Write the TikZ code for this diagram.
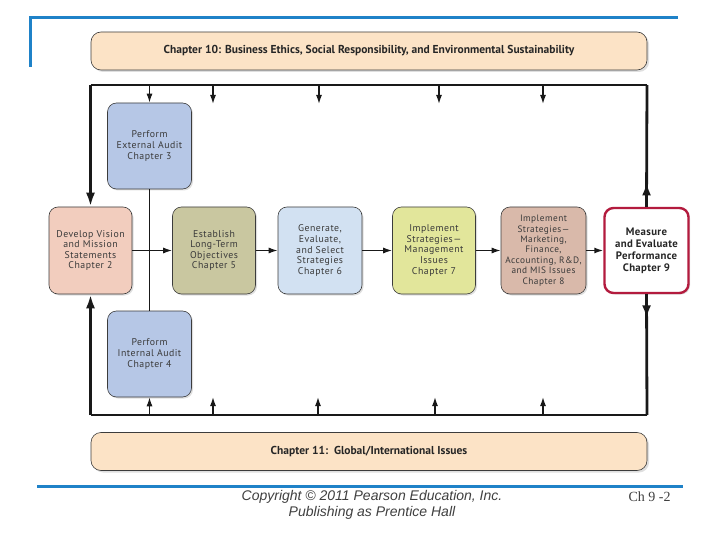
\documentclass[tikz,border=0pt]{standalone}
\usepackage{fontspec}
\setmainfont{PT Sans}
\newfontfamily\boxfont[LetterSpace=5]{PT Sans}
\newfontfamily\boldboxfont[LetterSpace=3]{PT Sans}
\newfontfamily\footfont{Liberation Sans}
\newfontfamily\chfont{Liberation Serif}
\usetikzlibrary{arrows.meta,shadows,decorations.markings}
\definecolor{slideblue}{HTML}{1F82C8}
\definecolor{peach}{HTML}{FCE3C6}
\definecolor{visionc}{HTML}{F2CDBE}
\definecolor{auditc}{HTML}{B6C7E6}
\definecolor{estabc}{HTML}{C9C7A0}
\definecolor{genc}{HTML}{D2E1F2}
\definecolor{mgmtc}{HTML}{E2E69B}
\definecolor{mktc}{HTML}{D9B9AA}
\definecolor{measurec}{HTML}{B31B3E}
\definecolor{txt}{HTML}{3A3A3A}
\definecolor{edge}{HTML}{3C3C3C}
\begin{document}
\begin{tikzpicture}[x=1pt,y=-1pt,
  box/.style={draw=edge, line width=0.6pt, rounded corners=9pt, align=center,
    text=txt, font=\boxfont\fontsize{9.8}{10.6}\selectfont, inner sep=1pt,
    drop shadow={shadow xshift=1.5pt, shadow yshift=-1.5pt, opacity=0.25}},
  banner/.style={draw=edge, line width=0.6pt, rounded corners=10pt, fill=peach,
    minimum width=556pt, minimum height=38pt, text=black!85,
    font=\fontsize{11.5}{13}\selectfont\bfseries,
    drop shadow={shadow xshift=2pt, shadow yshift=-2pt, opacity=0.25}},
  frame/.style={line width=2.8pt, draw=black!90},
  thin/.style={line width=1.4pt, draw=black!90},
  thinarrow/.style={thin, -{Latex[length=9pt,width=6pt]}},
  bigarrow/.style={frame, -{Latex[length=14pt,width=9pt]}},
  midarrow/.style={postaction={decorate}, decoration={markings,
    mark=at position #1 with {\arrow{Latex[length=13pt,width=9pt]}}}},
  blueline/.style={line width=3pt, draw=slideblue}
]
\useasboundingbox (0,0) rectangle (720,540);
\fill[white] (0,0) rectangle (720,540);

% slide decoration lines
\draw[blueline] (30,18) -- (678,18);
\draw[blueline] (30,16.5) -- (30,67);
\draw[blueline] (37,486) -- (683,486);

% banners
\node[banner] (ethics) at (369,51) {Chapter 10: Business Ethics, Social Responsibility, and Environmental Sustainability};
\node[banner] (global) at (369,451.5) {Chapter 11:\ \ Global/International Issues};

% frame corners
\coordinate (TL) at (90.5,85);
\coordinate (TR) at (647,85);
\coordinate (BL) at (90.5,415);
\coordinate (BR) at (647,415);

% boxes
\node[box, fill=auditc, minimum width=84pt, minimum height=86pt] (ext) at (149.5,146) {Perform\\External Audit\\Chapter 3};
\node[box, fill=auditc, minimum width=84pt, minimum height=86pt] (int) at (149.5,354) {Perform\\Internal Audit\\Chapter 4};
\node[box, fill=visionc, minimum width=83pt, minimum height=87pt] (vision) at (90.5,250.5) {Develop Vision\\and Mission\\Statements\\Chapter 2};
\node[box, fill=estabc, minimum width=83pt, minimum height=87pt] (estab) at (214,250.5) {Establish\\Long-Term\\Objectives\\Chapter 5};
\node[box, fill=genc, minimum width=84pt, minimum height=87pt] (gen) at (320,250.5) {Generate,\\Evaluate,\\and Select\\Strategies\\Chapter 6};
\node[box, fill=mgmtc, minimum width=83pt, minimum height=87pt] (mgmt) at (434,250.5) {Implement\\Strategies—\\Management\\Issues\\Chapter 7};
\node[box, fill=mktc, minimum width=85pt, minimum height=87pt, font=\boxfont\fontsize{9.3}{10.4}\selectfont] (mkt) at (543.5,250.5) {Implement\\Strategies—\\Marketing,\\Finance,\\Accounting, R\&D,\\and MIS Issues\\Chapter 8};
\node[box, fill=white, draw=measurec, line width=2.4pt, minimum width=84pt, minimum height=85pt,
  text=black!85, font=\boldboxfont\fontsize{10.8}{12}\selectfont\bfseries] (measure) at (646.5,250.5) {Measure\\and Evaluate\\Performance\\Chapter 9};

% frame
\draw[frame] (TL) -- (TR);
\draw[frame] (BL) -- (BR);
\draw[bigarrow] (TL) -- (vision.north);
\draw[bigarrow] (BL) -- (vision.south);
\draw[frame, midarrow=0.2] (measure.north) -- (TR);
\draw[frame, midarrow=0.2] (measure.south) -- (BR);

% top arrows from frame
\draw[thinarrow] (ext.north |- TL) -- (ext.north);
\foreach \x [count=\i] in {213,319,439,543} {
  \coordinate (ts\i) at (\x,85);
  \coordinate (te\i) at (\x,104);
  \draw[thinarrow] (ts\i) -- (te\i);
}
% bottom arrows into frame
\draw[thinarrow] (int.south |- BL) -- (int.south);
\foreach \x [count=\i] in {213,318,435,543} {
  \coordinate (bs\i) at (\x,415);
  \coordinate (be\i) at (\x,397);
  \draw[thinarrow] (bs\i) -- (be\i);
}

% audit connector
\draw[thin] (ext.south) -- (int.north);

% main flow
\draw[thinarrow] (vision.east) -- (estab.west);
\draw[thinarrow] (estab.east) -- (gen.west);
\draw[thinarrow] (gen.east) -- (mgmt.west);
\draw[thinarrow] (mgmt.east) -- (mkt.west);
\draw[thinarrow] (mkt.east) -- (measure.west);

% footer
\node[font=\footfont\itshape\fontsize{14}{16}\selectfont, text=black!75, align=center] (copy) at (372,505) {Copyright © 2011 Pearson Education, Inc.\\Publishing as Prentice Hall};
\node[font=\chfont\fontsize{14}{16}\selectfont, text=black!75] (page) at (649.5,497) {Ch 9 -2};
\end{tikzpicture}
\end{document}
